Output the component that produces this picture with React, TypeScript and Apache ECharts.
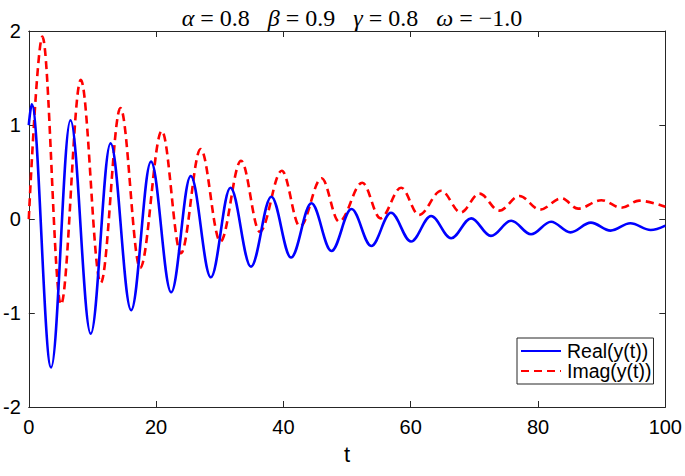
import React, { useEffect, useRef } from "react";
import * as echarts from "echarts";

// Real part: time of each extremum and the value
const realT = [0, 0.47, 3.5, 6.55, 9.73, 12.85, 16.08, 19.2, 22.37, 25.44, 28.6, 31.68, 34.9, 38.1, 41.2, 44.4, 47.55, 50.7, 53.8, 56.9, 60.05, 63.2, 66.35, 69.5, 72.6, 75.8, 78.9, 82.05, 85.1, 88.3, 91.4, 94.5, 97.7, 100];
const realV = [1.0, 1.22, -1.58, 1.05, -1.22, 0.805, -0.97, 0.61, -0.78, 0.457, -0.62, 0.333, -0.507, 0.237, -0.41, 0.167, -0.34, 0.106, -0.287, 0.067, -0.24, 0.032, -0.205, 0.007, -0.18, -0.018, -0.163, -0.029, -0.142, -0.039, -0.124, -0.046, -0.117, -0.07];

// Imaginary part
const imagT = [0, 2.13, 5.05, 8.17, 11.3, 14.4, 17.5, 20.9, 23.9, 27.0, 30.1, 33.35, 36.3, 39.75, 42.6, 46.0, 48.75, 52.4, 55.25, 58.5, 61.3, 64.8, 67.85, 70.8, 73.9, 77.1, 80.3, 83.7, 86.3, 89.95, 93.1, 95.9, 100];
const imagV = [0, 1.94, -0.91, 1.48, -0.68, 1.18, -0.52, 0.936, -0.365, 0.745, -0.24, 0.62, -0.135, 0.514, -0.08, 0.433, -0.028, 0.386, 0.007, 0.333, 0.043, 0.3, 0.07, 0.27, 0.089, 0.245, 0.1, 0.22, 0.11, 0.2, 0.12, 0.195, 0.13];

const seriesNames = ["Real(y(t))", "Imag(y(t))"];
const xRange = [0, 100, 20];
const yRange = [-2, 2, 1];

const AXIS = "#262626";
const SANS = "Liberation Sans, Arial, sans-serif";
const SERIF = "Liberation Serif";

export default function App() {
  const ref = useRef<HTMLDivElement>(null);
  useEffect(() => {
    const chart = echarts.init(ref.current!, null, { renderer: "svg" });
    const realData = realT.map((t, i) => [t, realV[i]]);
    const imagData = imagT.map((t, i) => [t, imagV[i]]);
    const labelFont = { fontFamily: SANS, fontSize: 20, color: "#000" };
    const axisLine = { show: true, onZero: false, lineStyle: { color: AXIS, width: 1 } };
    const axisTick = { show: true, inside: true, length: 6, lineStyle: { color: AXIS } };
    const baseX = {
      type: "value" as const,
      min: xRange[0],
      max: xRange[1],
      interval: xRange[2],
      splitLine: { show: false },
      axisLine,
      axisTick,
    };
    const baseY = {
      type: "value" as const,
      min: yRange[0],
      max: yRange[1],
      interval: yRange[2],
      splitLine: { show: false },
      axisLine,
      axisTick,
    };
    const g = { fontFamily: SERIF, fontStyle: "italic", fontWeight: "normal", fontSize: 24, color: "#000" };
    const n = { fontFamily: SERIF, fontWeight: "normal", fontSize: 24, color: "#000" };
    chart.setOption({
      animation: false,
      backgroundColor: "#fff",
      title: {
        left: 347,
        top: 1,
        textAlign: "center",
        text: "{g|α}{n| = 0.8   }{g|β}{n| = 0.9   }{g|γ}{n| = 0.8   }{g|ω}{n| = −1.0}",
        textStyle: { fontFamily: SERIF, fontWeight: "normal", fontSize: 24, rich: { g, n } },
      },
      grid: { left: 27, right: 17, top: 31, bottom: 69, containLabel: false },
      legend: {
        orient: "vertical",
        left: 517,
        top: 338,
        data: seriesNames,
        backgroundColor: "#fff",
        borderColor: AXIS,
        borderWidth: 1,
        borderRadius: 0,
        padding: [3, 2, 3, 3],
        itemGap: 0,
        itemWidth: 40,
        itemHeight: 10,
        itemStyle: { opacity: 0 },
        textStyle: { ...labelFont, fontSize: 19.5, lineHeight: 17, padding: [0, 0, 0, 1] },
      },
      xAxis: [
        {
          ...baseX,
          position: "bottom",
          name: "t",
          nameLocation: "middle",
          nameGap: 36,
          nameTextStyle: { fontFamily: SANS, fontSize: 22, color: "#000", verticalAlign: "top" },
          axisLabel: { ...labelFont, margin: 10 },
        },
        { ...baseX, position: "top", axisLabel: { show: false } },
      ],
      yAxis: [
        { ...baseY, position: "left", axisLabel: { ...labelFont, margin: 8 } },
        { ...baseY, position: "right", axisLabel: { show: false } },
      ],
      series: [
        {
          name: seriesNames[0],
          type: "line",
          data: realData,
          symbol: "none",
          smooth: 0.36,
          smoothMonotone: "x",
          lineStyle: { color: "#0000ff", width: 2.6 },
          itemStyle: { color: "#0000ff" },
          z: 3,
        },
        {
          name: seriesNames[1],
          type: "line",
          data: imagData,
          symbol: "none",
          smooth: 0.36,
          smoothMonotone: "x",
          lineStyle: { color: "#ff0000", width: 2.6, type: [8, 5] },
          itemStyle: { color: "#ff0000" },
          z: 2,
        },
      ],
    });
    return () => chart.dispose();
  }, []);
  return <div ref={ref} style={{ width: 685, height: 476, position: "absolute", left: 0, top: 0 }} />;
}
